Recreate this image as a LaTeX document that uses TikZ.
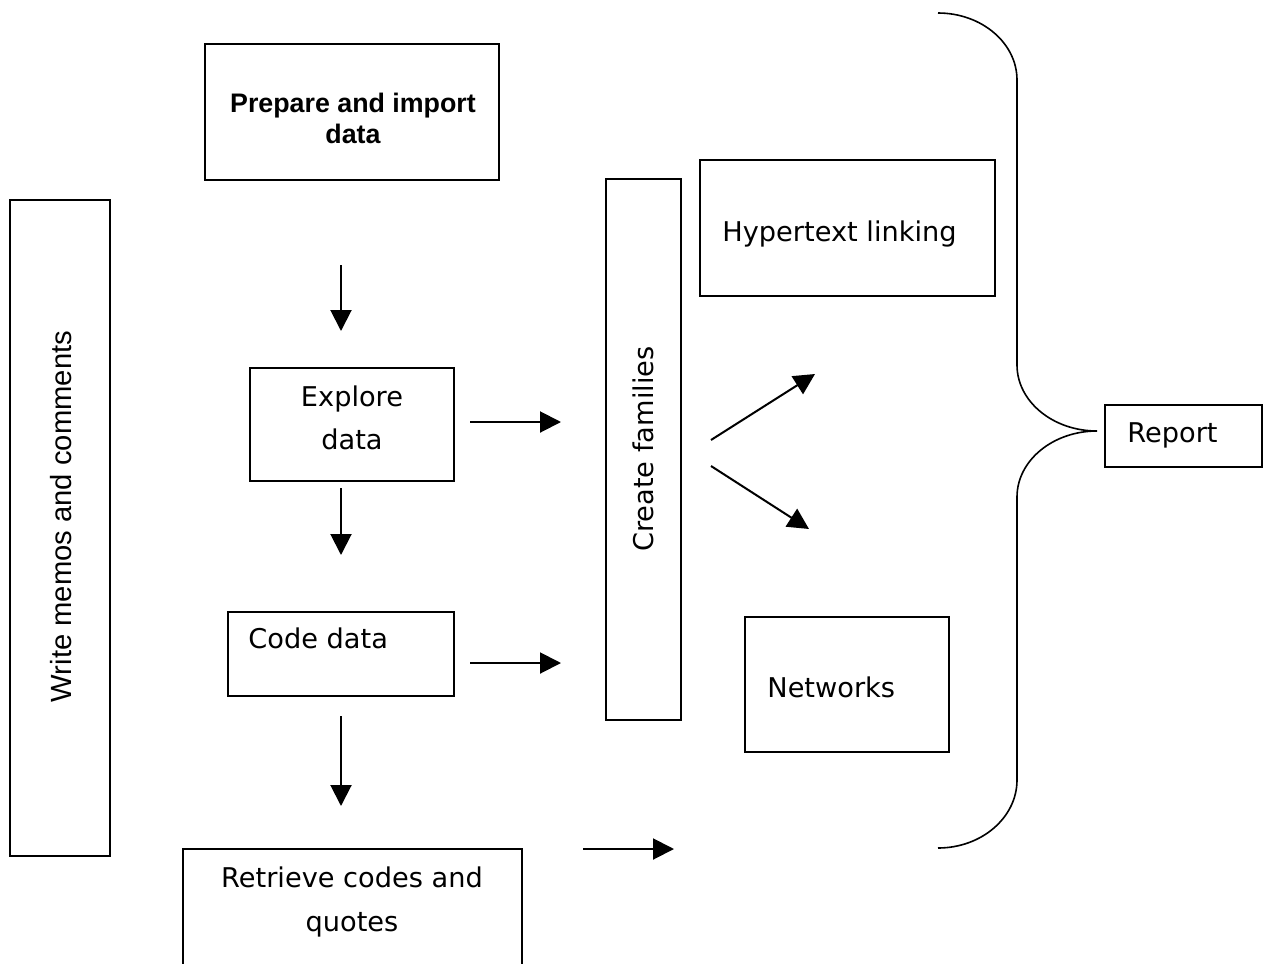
\documentclass[tikz,border=0pt]{standalone}
\usepackage{fontspec}
\newfontfamily\verd{DejaVu Sans}
\newfontfamily\arialf{Liberation Sans}
\usetikzlibrary{arrows.meta}
\begin{document}
\begin{tikzpicture}[x=0.5pt,y=-0.5pt,
  box/.style 2 args={draw, line width=0.9pt, inner sep=0pt,
    minimum width=#1*0.5pt, minimum height=#2*0.5pt},
  vtext/.style={inner sep=0pt, font=\verd\fontsize{13.6pt}{21.5pt}\selectfont},
  atext/.style={inner sep=0pt, font=\arialf\fontsize{14.6pt}{17pt}\selectfont},
  flow/.style={line width=1pt, -{Triangle[length=10.5pt,width=10.5pt]}},
  brace/.style={line width=0.8pt}]
\useasboundingbox (0,0) rectangle (1264,964);
\clip (0,0) rectangle (1264,964);

% boxes
\node[box={294}{136}] (prep) at (352,112) {};
\node[box={100}{656}] (memo) at (60,528) {};
\node[box={295}{136}] (hyper) at (847.5,228) {};
\node[box={75}{541}] (create) at (643.5,449.5) {};
\node[box={204}{113}] (explore) at (352,424.5) {};
\node[box={226}{84}] (code) at (341,654) {};
\node[box={204}{135}] (net) at (847,684.5) {};
\node[box={157}{62}] (report) at (1183.5,436) {};
\node[box={339}{126}] (retrieve) at (352.5,912) {};

% texts
\node[inner sep=0pt, align=center,
  font=\arialf\bfseries\fontsize{13.4pt}{15.5pt}\selectfont] (prep-t) at (353,118)
  {Prepare and import\\data};
\node[atext, rotate=90, anchor=base] (memo-t) at (71,516.5) {Write memos and comments};
\node[vtext, anchor=base west] (hyper-t) at (722,241) {Hypertext linking};
\node[vtext, rotate=90, anchor=base] (create-t) at (653,449) {Create families};
\node[vtext, align=center] (explore-t) at (352,418) {Explore\\data};
\node[vtext, anchor=base west] (code-t) at (248,648) {Code data};
\node[vtext, anchor=base west] (net-t) at (767,697) {Networks};
\node[vtext, anchor=base west] (report-t) at (1127,442) {Report};
\node[vtext, align=center, font=\verd\fontsize{13.6pt}{22pt}\selectfont] (retrieve-t) at (352,902)
  {Retrieve codes and\\quotes};

% arrow end points
\coordinate (a1s) at (341,265); \coordinate (a1e) at (341,331);
\coordinate (a2s) at (341,488); \coordinate (a2e) at (341,555);
\coordinate (a3s) at (341,716); \coordinate (a3e) at (341,806);
\coordinate (a4s) at (470,422); \coordinate (a4e) at (561,422);
\coordinate (a5s) at (470,663); \coordinate (a5e) at (561,663);
\coordinate (a6s) at (583,849); \coordinate (a6e) at (674,849);
\coordinate (a7s) at (711,440); \coordinate (a7e) at (815,374);
\coordinate (a8s) at (711,466); \coordinate (a8e) at (809,529);

\draw[flow] (a1s) -- (a1e);
\draw[flow] (a2s) -- (a2e);
\draw[flow] (a3s) -- (a3e);
\draw[flow] (a4s) -- (a4e);
\draw[flow] (a5s) -- (a5e);
\draw[flow] (a6s) -- (a6e);
\draw[flow] (a7s) -- (a7e);
\draw[flow] (a8s) -- (a8e);

% brace
\coordinate (b0) at (938,13);
\coordinate (b1) at (1017,80);
\coordinate (b2) at (1017,365);
\coordinate (btip) at (1097,431);
\coordinate (b3) at (1017,497);
\coordinate (b4) at (1017,780);
\coordinate (b5) at (938,848);
\draw[brace] (b0) .. controls (981.6,13) and (1017,43) .. (b1) -- (b2)
  .. controls (1017,401.4) and (1052.8,431) .. (btip)
  .. controls (1052.8,431) and (1017,460.6) .. (b3) -- (b4)
  .. controls (1017,817.5) and (981.6,848) .. (b5);
\end{tikzpicture}
\end{document}
